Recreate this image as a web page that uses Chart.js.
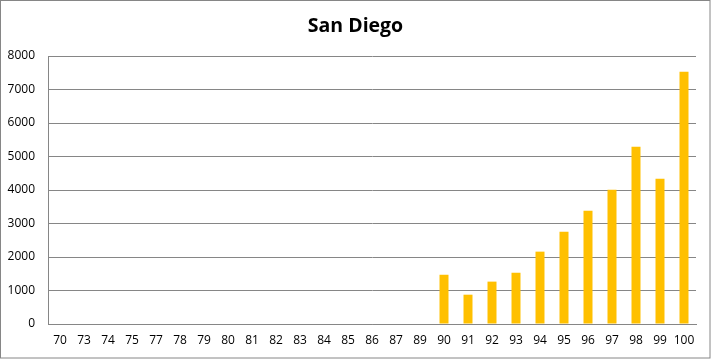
<!DOCTYPE html>
<html>
<head>
<meta charset="utf-8">
<script src="https://cdn.jsdelivr.net/npm/chart.js@4/dist/chart.umd.min.js"></script>
<style>
  html, body { margin: 0; padding: 0; background: #ffffff; }
  #wrap { position: relative; width: 711px; height: 359px; }
</style>
</head>
<body>
<div id="wrap"><canvas id="c" width="711" height="359"></canvas></div>
<script>
const chartTitle = 'San Diego';
const categories = ['70','73','74','75','77','78','79','80','81','82','83','84','85','86','87','89','90','91','92','93','94','95','96','97','98','99','100'];
const values = [0,0,0,0,0,0,0,0,0,0,0,0,0,0,0,0,1470,875,1265,1530,2160,2755,3380,4010,5290,4335,7530];
const yTicks = [0,1000,2000,3000,4000,5000,6000,7000,8000];

const borderPlugin = {
  id: 'outerBorder',
  afterDraw(chart) {
    const ctx = chart.ctx;
    ctx.save();
    ctx.strokeStyle = '#868686';
    ctx.lineWidth = 1;
    ctx.strokeRect(0.5, 0.5, chart.width - 1.5, chart.height - 1.5);
    ctx.restore();
  }
};

new Chart(document.getElementById('c'), {
  type: 'bar',
  data: {
    labels: categories,
    datasets: [{
      data: values,
      backgroundColor: '#FFC000',
      borderWidth: 0,
      barPercentage: 0.375,
      categoryPercentage: 1.0
    }]
  },
  options: {
    responsive: false,
    animation: false,
    devicePixelRatio: 1,
    layout: { padding: { left: 0, right: 0, top: 0, bottom: 0 } },
    plugins: {
      legend: { display: false },
      tooltip: { enabled: false },
      title: {
        display: true,
        text: chartTitle,
        color: '#000000',
        font: { family: "'Open Sans', sans-serif", size: 19.5, weight: 'bold' },
        padding: { top: 15, bottom: 17.6 }
      }
    },
    scales: {
      x: {
        grid: { display: false, drawTicks: false },
        border: { display: true, color: '#868686' },
        ticks: {
          color: '#000000',
          font: { family: "'Open Sans', sans-serif", size: 12 },
          padding: 9,
          maxRotation: 0,
          autoSkip: false
        },
        afterFit(scale) { scale.height = 35; }
      },
      y: {
        min: 0,
        max: 8000,
        afterBuildTicks(scale) { scale.ticks = yTicks.map(v => ({ value: v })); },
        grid: { color: '#868686', drawTicks: false, lineWidth: 1 },
        border: { display: true, color: '#868686' },
        ticks: {
          color: '#000000',
          font: { family: "'Open Sans', sans-serif", size: 12 },
          padding: 13,
          callback: (v) => String(v)
        },
        afterFit(scale) { scale.width = 48; }
      },
      yRight: {
        position: 'right',
        display: true,
        min: 0,
        max: 8000,
        grid: { display: false, drawOnChartArea: false, drawTicks: false },
        border: { display: false },
        ticks: { display: false },
        afterFit(scale) { scale.width = 15; }
      }
    }
  },
  plugins: [borderPlugin]
});
</script>
</body>
</html>
